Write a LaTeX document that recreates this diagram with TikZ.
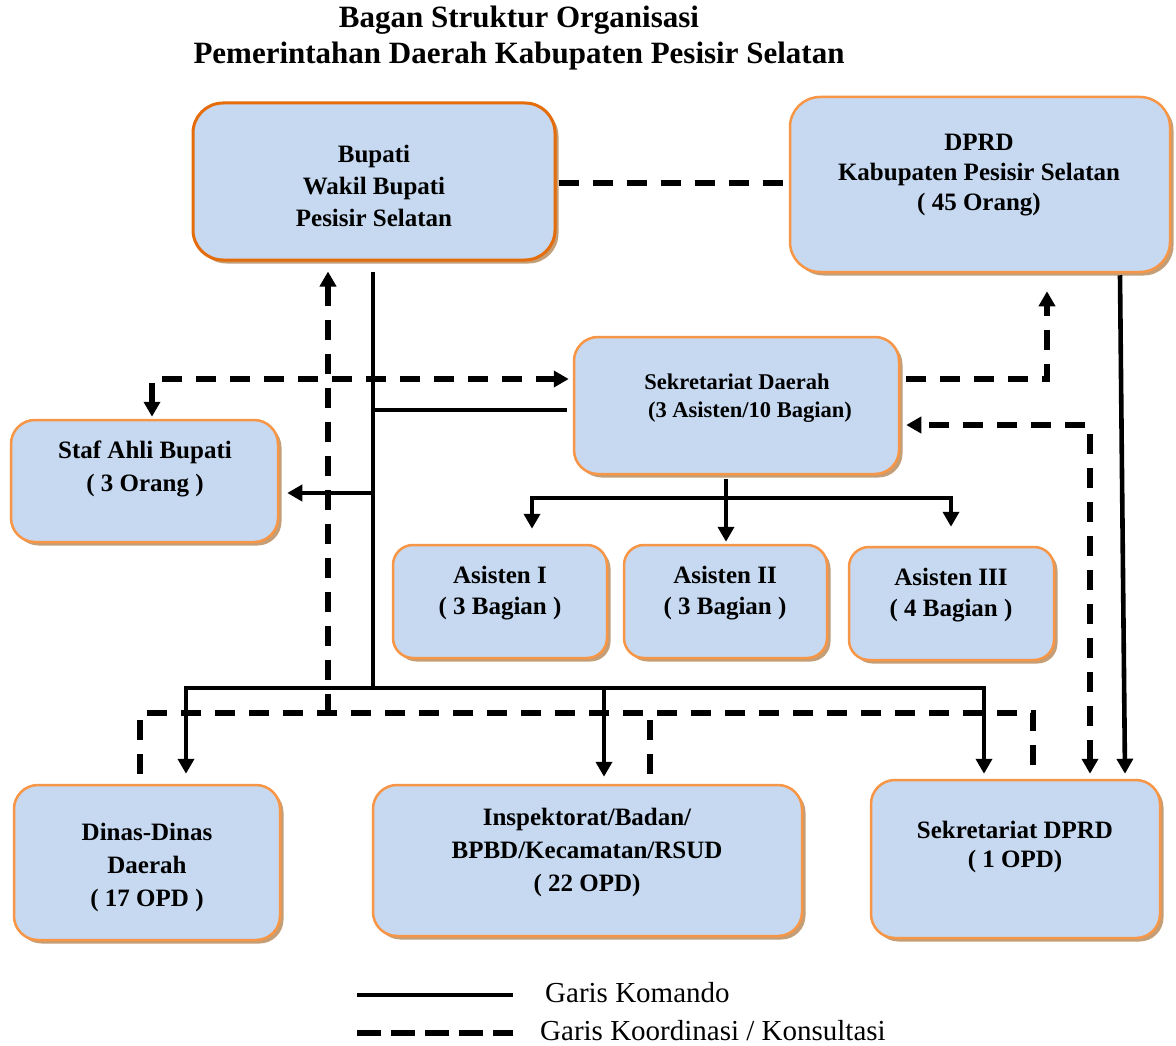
\documentclass[tikz,border=0pt]{standalone}
\usepackage{fontspec}
\setmainfont{Liberation Serif}
\usetikzlibrary{arrows.meta,shadows}
\definecolor{boxfill}{RGB}{198,217,241}
\definecolor{boxline}{RGB}{247,150,70}
\definecolor{boxdark}{RGB}{228,108,10}
\definecolor{shadowc}{RGB}{196,158,118}
\tikzset{
 orgbox/.style={draw=boxline, line width=2.5pt, fill=boxfill, rounded corners=24pt, inner sep=0pt,
   drop shadow={shadow xshift=3.5pt, shadow yshift=-3.5pt, fill=shadowc, opacity=1}},
 boxtxt/.style={font=\bfseries\fontsize{25}{32}\selectfont, align=center, inner sep=0pt},
 cmd/.style={line width=4.6pt},
 coord/.style={line width=5.5pt, dash pattern=on 20pt off 14pt},
 tip/.style={arrows={-Triangle[length=15pt,width=16pt]}},
 tips/.style={arrows={Triangle[length=15pt,width=16pt]-Triangle[length=15pt,width=16pt]}},
}
\begin{document}
\begin{tikzpicture}[x=1pt,y=-1pt]
\fill[white] (0,0) rectangle (1176,1046);
\useasboundingbox (0,0) rectangle (1176,1046);

% title
\node[font=\bfseries\fontsize{31}{36}\selectfont, align=center, inner sep=0pt] (title) at (519,38)
  {Bagan Struktur Organisasi\\Pemerintahan Daerah Kabupaten Pesisir Selatan};

% boxes
\node[orgbox, draw=boxdark, line width=3pt, rounded corners=30pt, minimum width=362pt, minimum height=157pt] (bupati) at (374,181.5) {};
\node[orgbox, rounded corners=30pt, minimum width=380pt, minimum height=175pt] (dprd) at (980,184.5) {};
\node[orgbox, minimum width=325pt, minimum height=137pt] (sekda) at (736.5,405.5) {};
\node[orgbox, minimum width=267pt, minimum height=122pt] (staf) at (144.5,481) {};
\node[orgbox, rounded corners=20pt, minimum width=214pt, minimum height=113pt] (asis1) at (500,601.5) {};
\node[orgbox, rounded corners=20pt, minimum width=203pt, minimum height=113pt] (asis2) at (725.5,601.5) {};
\node[orgbox, rounded corners=20pt, minimum width=205pt, minimum height=113pt] (asis3) at (951.5,603.5) {};
\node[orgbox, minimum width=266pt, minimum height=155pt] (dinas) at (147,862.5) {};
\node[orgbox, minimum width=429pt, minimum height=151pt] (insp) at (587.5,860.5) {};
\node[orgbox, minimum width=289pt, minimum height=158pt] (sekdprd) at (1015.5,859) {};

% box texts
\node[boxtxt] (bupatiT) at (374,186) {Bupati\\Wakil Bupati\\Pesisir Selatan};
\node[boxtxt, font=\bfseries\fontsize{25}{30}\selectfont] (dprdT) at (979,175) {DPRD\\Kabupaten Pesisir Selatan\\( 45 Orang)};
\node[boxtxt, font=\bfseries\fontsize{22.5}{28}\selectfont] (sekdaT) at (737,398) {Sekretariat Daerah\\\hspace*{26pt}(3 Asisten/10 Bagian)};
\node[boxtxt, font=\bfseries\fontsize{25}{33}\selectfont] (stafT) at (145,469) {Staf Ahli Bupati\\( 3 Orang )};
\node[boxtxt, font=\bfseries\fontsize{25}{31}\selectfont] (asis1T) at (500,593) {Asisten I\\( 3 Bagian )};
\node[boxtxt, font=\bfseries\fontsize{25}{31}\selectfont] (asis2T) at (725,593) {Asisten II\\( 3 Bagian )};
\node[boxtxt, font=\bfseries\fontsize{25}{31}\selectfont] (asis3T) at (951,595) {Asisten III\\( 4 Bagian )};
\node[boxtxt, font=\bfseries\fontsize{25}{33}\selectfont] (dinasT) at (147,867) {Dinas-Dinas\\Daerah\\( 17 OPD )};
\node[boxtxt, font=\bfseries\fontsize{25}{33}\selectfont] (inspT) at (587,852) {Inspektorat/Badan/\\BPBD/Kecamatan/RSUD\\( 22 OPD)};
\node[boxtxt, font=\bfseries\fontsize{25}{29}\selectfont] (sekdprdT) at (1015,847) {Sekretariat DPRD\\( 1 OPD)};

% junction coordinates
\coordinate (bus) at (373,688);
\coordinate (vsek) at (373,410);
\coordinate (vstaf) at (375,493);
\coordinate (bus2) at (604,688);
\coordinate (sdj) at (726,498);
\coordinate (cb) at (328,714);

% ---- command lines (solid)
\draw[cmd] ([shift={(-1,10)}]bupati.south) -- (bus);
\draw[cmd] ([shift={(-6,4.5)}]sekda.west) -- (vsek);
\draw[cmd,tip] (vstaf) -- ([shift={(8,12)}]staf.east);
\draw[cmd,tip] (bus) -| ([shift={(39,-10)}]dinas.north);
\draw[cmd,tip] (bus) -| ([shift={(16.5,-7)}]insp.north);
\draw[cmd,tip] (bus2) -| ([shift={(-31.5,-5)}]sekdprd.north);
\draw[cmd,tip] ([shift={(140,2)}]dprd.south) -- ([shift={(109.5,-5)}]sekdprd.north);
\draw[cmd] ([shift={(-10.5,4)}]sekda.south) -- (sdj);
\draw[cmd,tip] (sdj) -| ([shift={(32,-15)}]asis1.north);
\draw[cmd,tip] (sdj) -- ([shift={(0.5,-2)}]asis2.north);
\draw[cmd,tip] (sdj) -| ([shift={(-0.5,-19)}]asis3.north);

% ---- coordination lines (dashed)
\draw[coord] ([shift={(2,1.5)}]bupati.east) -- ([shift={(-2,-1.5)}]dprd.west);
\draw[coord,tips] ([shift={(7.5,-2)}]staf.north) |- ([shift={(-4,-26.5)}]sekda.west);
\draw[coord,tip] ([shift={(6,-26.5)}]sekda.east) -| ([shift={(67,18)}]dprd.south);
\draw[coord,tips] ([shift={(74.5,-5)}]sekdprd.north) |- ([shift={(6,19.5)}]sekda.east);
\draw[coord,tip] (cb) -- ([shift={(-46,10)}]bupati.south);
\draw[coord] ([shift={(-7,-10)}]dinas.north) -- ++(0,-61) -| ([shift={(17.5,-5)}]sekdprd.north);
\draw[coord] ([shift={(62.5,-10)}]insp.north) -- ++(0,-61);

% legend
\coordinate (lg1a) at (357,995);
\coordinate (lg1b) at (513,995);
\coordinate (lg2a) at (357,1033);
\coordinate (lg2b) at (513,1033);
\draw[cmd] (lg1a) -- (lg1b);
\draw[line width=5.5pt, dash pattern=on 24pt off 10pt] (lg2a) -- (lg2b);
\node[anchor=west, inner sep=0pt, font=\fontsize{29}{34}\selectfont] (lgT1) at (545,993) {Garis Komando};
\node[anchor=west, inner sep=0pt, font=\fontsize{29}{34}\selectfont] (lgT2) at (540,1031) {Garis Koordinasi / Konsultasi};
\end{tikzpicture}
\end{document}
